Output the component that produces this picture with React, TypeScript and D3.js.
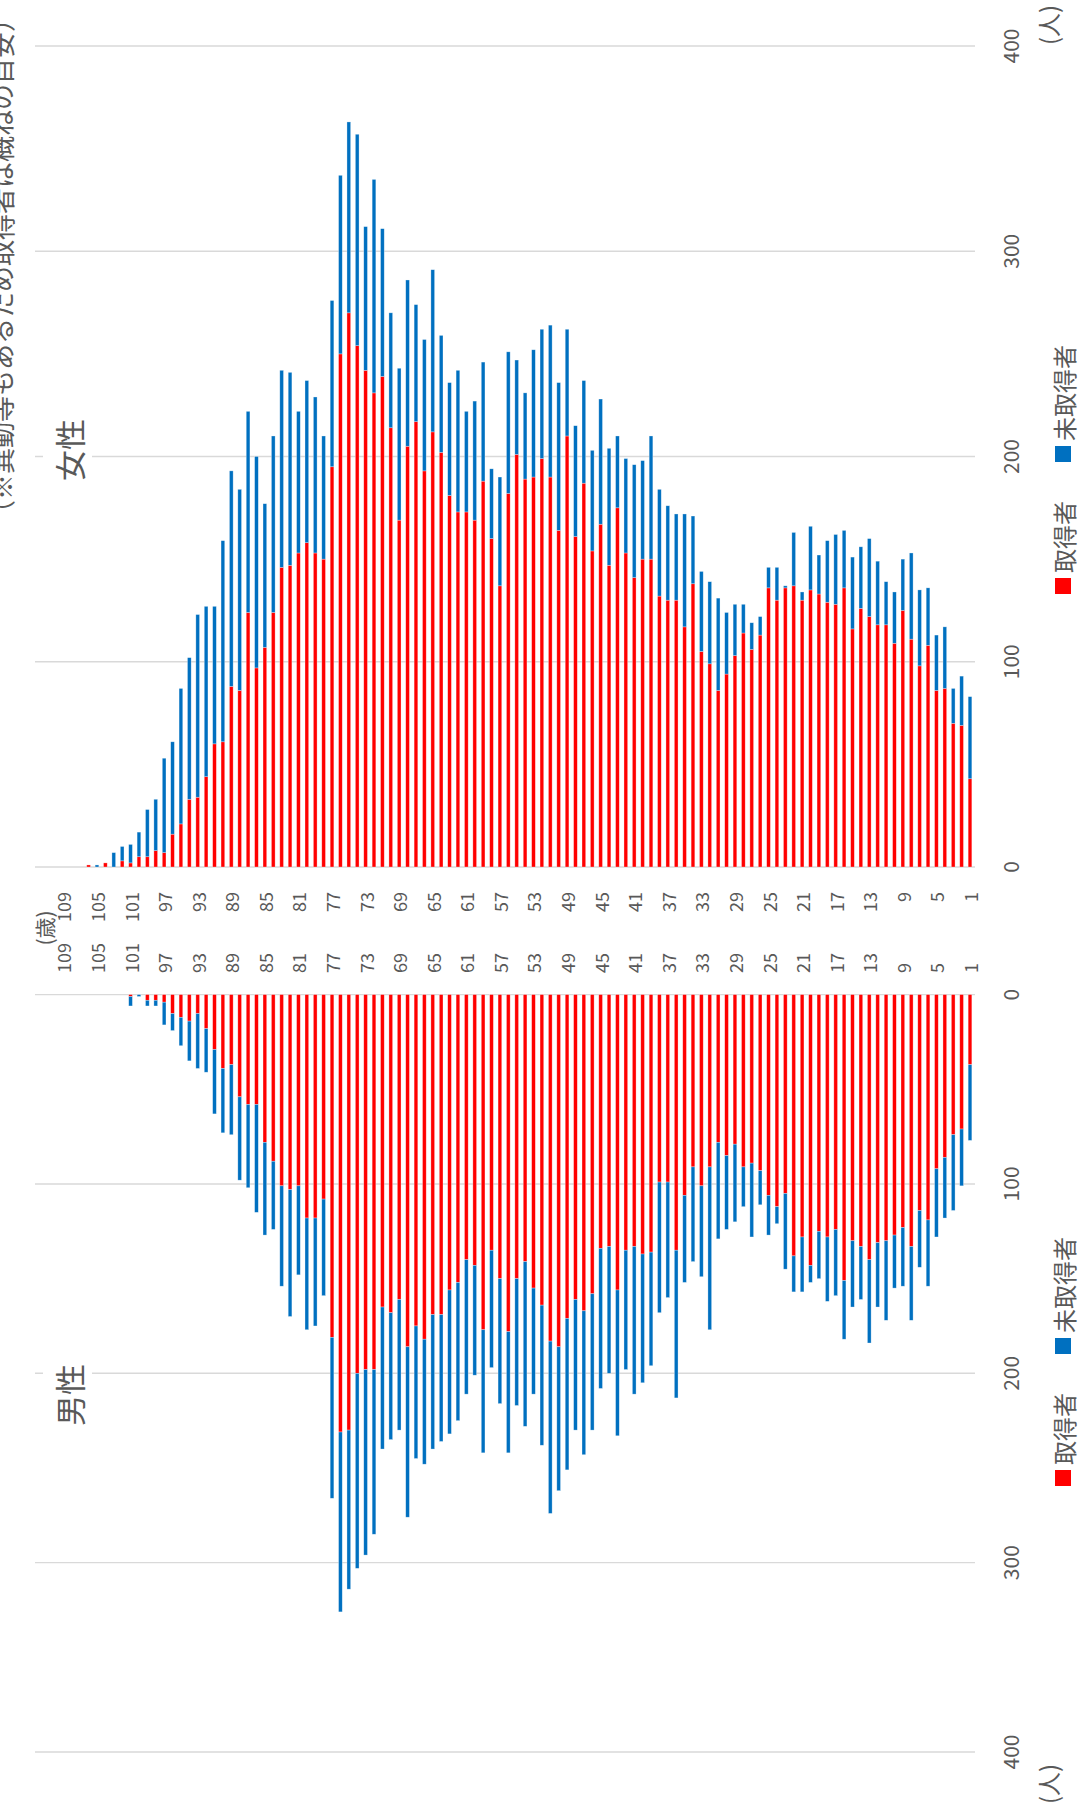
import React from 'react';
import * as d3 from 'd3';

// ages 1..109, values listed from age 1 upward
const ages = d3.range(1, 110);

const femaleAcquired = [
  43, 69, 70, 87, 86, 108, 98, 111, 125, 109,
  118, 118, 122, 126, 116, 136, 128, 129, 133, 135,
  130, 137, 136, 130, 136, 113, 106, 114, 103, 94,
  86, 99, 105, 138, 117, 130, 130, 132, 150, 150,
  141, 153, 175, 147, 167, 154, 187, 161, 210, 164,
  190, 199, 190, 189, 201, 182, 137, 160, 188, 169,
  173, 173, 181, 202, 212, 193, 217, 205, 169, 214,
  239, 231, 242, 254, 270, 250, 195, 150, 153, 158,
  153, 147, 146, 124, 107, 97, 124, 86, 88, 61,
  60, 44, 34, 33, 21, 16, 7, 8, 5, 5,
  2, 3, 0, 2, 0, 1, 0, 0, 0,
];
const femaleUnacquired = [
  40, 24, 17, 30, 27, 28, 37, 42, 25, 25,
  21, 31, 38, 30, 35, 28, 34, 30, 19, 31,
  4, 26, 1, 16, 10, 9, 13, 14, 25, 30,
  45, 40, 39, 33, 55, 42, 46, 52, 60, 48,
  55, 46, 35, 57, 61, 49, 50, 54, 52, 72,
  74, 63, 62, 42, 46, 69, 53, 34, 58, 58,
  49, 69, 55, 57, 79, 64, 57, 81, 74, 56,
  72, 104, 70, 103, 93, 87, 81, 60, 76, 79,
  69, 94, 96, 86, 70, 103, 98, 98, 105, 98,
  67, 83, 89, 69, 66, 45, 46, 25, 23, 12,
  9, 7, 7, 0, 1, 0, 0, 0, 0,
];
const maleAcquired = [
  37, 71, 74, 86, 92, 119, 114, 133, 123, 127,
  130, 131, 140, 133, 130, 151, 124, 128, 125, 143,
  128, 138, 105, 112, 106, 93, 89, 91, 79, 85,
  78, 91, 101, 91, 106, 135, 99, 99, 136, 137,
  133, 135, 156, 133, 134, 158, 167, 161, 171, 186,
  183, 164, 155, 141, 150, 178, 150, 135, 177, 143,
  140, 152, 156, 169, 169, 182, 175, 186, 161, 168,
  165, 198, 198, 200, 230, 231, 181, 108, 118, 118,
  101, 103, 101, 88, 78, 58, 58, 54, 37, 39,
  29, 18, 10, 14, 12, 10, 4, 3, 3, 0,
  1, 0, 0, 0, 0, 0, 0, 0, 0,
];
const maleUnacquired = [
  40, 30, 40, 32, 36, 35, 30, 39, 31, 28,
  42, 34, 44, 28, 35, 31, 35, 34, 25, 9,
  29, 19, 40, 9, 21, 18, 39, 21, 41, 39,
  51, 86, 48, 50, 46, 78, 61, 69, 60, 68,
  78, 63, 77, 67, 74, 72, 76, 69, 80, 76,
  91, 74, 56, 87, 67, 64, 66, 62, 65, 58,
  71, 73, 76, 67, 71, 66, 70, 90, 69, 67,
  75, 87, 98, 103, 84, 95, 85, 51, 57, 59,
  47, 67, 53, 36, 49, 57, 44, 44, 37, 34,
  34, 23, 29, 21, 15, 9, 12, 3, 3, 1,
  5, 0, 0, 0, 0, 0, 0, 0, 0,
];

const valueTicks = [0, 100, 200, 300, 400];
const ageTicks = ages.filter(a => (a - 1) % 4 === 0);
const seriesNames = ['取得者', '未取得者'];

const RED = '#FF0000';
const BLUE = '#0070C0';
const GRID = '#D9D9D9';
const TEXT = '#595959';
const FONT = '"Noto Sans CJK JP", "Noto Sans", sans-serif';

const W = 1079;
const H = 1814;

// rotated text helper: reads bottom to top
const VText = ({ x, y, size, anchor = 'middle', fill = TEXT, children }: any) => (
  <text
    transform={`translate(${x},${y}) rotate(-90)`}
    textAnchor={anchor}
    dominantBaseline="central"
    fontSize={size}
    fill={fill}
    fontFamily={FONT}
  >
    {children}
  </text>
);

export default function App() {
  const x = d3.scalePoint<number>().domain([...ages].reverse()).range([63.4, 970]);
  const yF = d3.scaleLinear().domain([0, 400]).range([867, 46]);
  const yM = d3.scaleLinear().domain([0, 400]).range([994.6, 1752]);
  const bw = 3.7;
  const gridX0 = 35;
  const gridX1 = 975;

  const panel = (y: d3.ScaleLinear<number, number>, acq: number[], unacq: number[], key: string) => (
    <g key={key}>
      {valueTicks.map(t => (
        <line key={t} x1={gridX0} x2={gridX1} y1={y(t)} y2={y(t)} stroke={GRID} strokeWidth={1.4} />
      ))}
      {ages.map((a, i) => {
        const cx = x(a)!;
        const r0 = y(0), r1 = y(acq[i]), b1 = y(acq[i] + unacq[i]);
        return (
          <g key={a}>
            {acq[i] > 0 && (
              <rect x={cx - bw / 2} width={bw} y={Math.min(r0, r1)} height={Math.abs(r1 - r0)}
                fill={RED} stroke="#fff" strokeOpacity={0.5} strokeWidth={0.6} />
            )}
            {unacq[i] > 0 && (
              <rect x={cx - bw / 2} width={bw} y={Math.min(r1, b1)} height={Math.abs(b1 - r1)}
                fill={BLUE} stroke="#fff" strokeOpacity={0.5} strokeWidth={0.6} />
            )}
          </g>
        );
      })}
      {valueTicks.map(t => (
        <VText key={'l' + t} x={1010} y={y(t)} size={21}>{t}</VText>
      ))}
    </g>
  );

  const legend = (dy: number, key: string) => (
    <g key={key}>
      <rect x={1055} y={578 + dy} width={16} height={16} fill={RED} />
      <VText x={1063} y={573 + dy} size={24} anchor="start">{seriesNames[0]}</VText>
      <rect x={1055} y={446 + dy} width={16} height={16} fill={BLUE} />
      <VText x={1063} y={441 + dy} size={24} anchor="start">{seriesNames[1]}</VText>
    </g>
  );

  return (
    <svg width={W} height={H} style={{ position: 'absolute', left: 0, top: 0, background: '#fff' }}>
      <rect width={W} height={H} fill="#fff" />
      {panel(yF, femaleAcquired, femaleUnacquired, 'f')}
      {panel(yM, maleAcquired, maleUnacquired, 'm')}

      {/* age labels */}
      {ageTicks.map(a => (
        <VText key={'t' + a} x={x(a)!} y={892} size={18} anchor="end">{a}</VText>
      ))}
      {ageTicks.map(a => (
        <VText key={'b' + a} x={x(a)!} y={973} size={18} anchor="start">{a}</VText>
      ))}
      <VText x={44} y={928} size={21}>(歳)</VText>

      {/* panel titles with white boxes */}
      <rect x={43} y={414} width={49} height={74} fill="#fff" />
      <VText x={68} y={450} size={31}>女性</VText>
      <rect x={43} y={1358} width={49} height={74} fill="#fff" />
      <VText x={68} y={1395} size={31}>男性</VText>

      {legend(0, 'lt')}
      {legend(892, 'lb')}

      <VText x={1047} y={25} size={24}>(人)</VText>
      <VText x={1047} y={1784} size={24}>(人)</VText>

      <VText x={0} y={266} size={26}>（※異動等もあるため取得者は概ねの目安）</VText>
    </svg>
  );
}
